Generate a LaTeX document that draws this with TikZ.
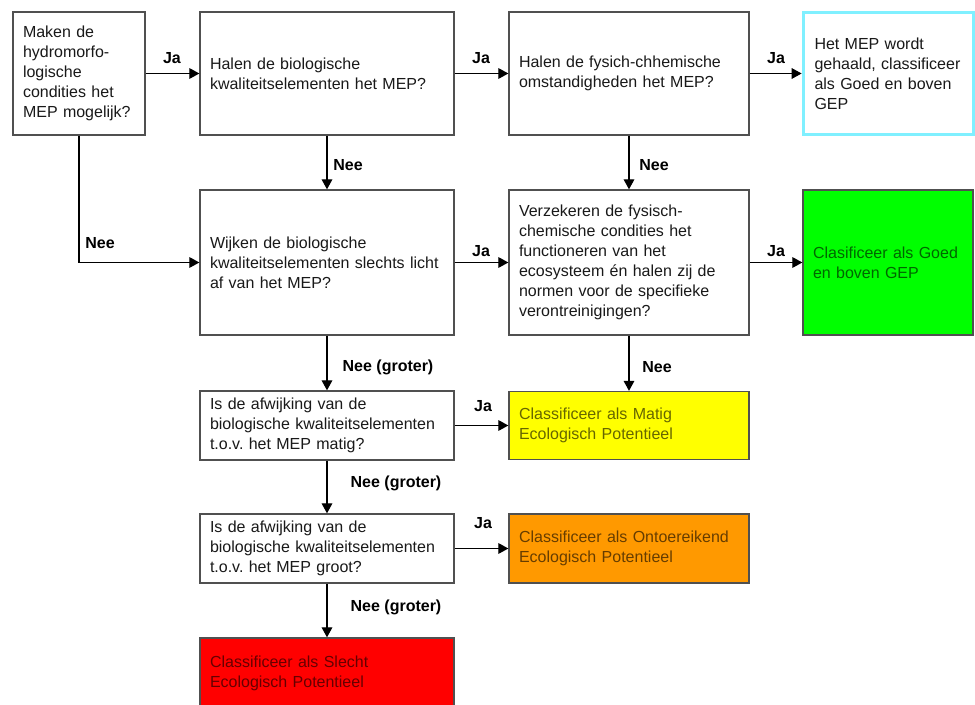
\documentclass[tikz,border=0pt]{standalone}
\usepackage{fontspec}
\setmainfont{Liberation Sans}
\usetikzlibrary{arrows.meta}
\definecolor{bordergray}{RGB}{80,80,80}
\definecolor{cyanbord}{RGB}{128,240,255}
\definecolor{goodgreen}{RGB}{0,255,0}
\definecolor{matigyellow}{RGB}{255,255,0}
\definecolor{ontorange}{RGB}{255,153,0}
\definecolor{slechtred}{RGB}{255,0,0}
\frenchspacing
\begin{document}
\begin{tikzpicture}[x=0.75pt,y=-0.75pt,
  box/.style={draw=bordergray, line width=1pt, fill=white, inner xsep=7.5pt, inner ysep=0pt,
    align=left, font=\fontsize{12}{15}\selectfont\frenchspacing, text=black!90},
  cbox/.style={box, text=black, text opacity=0.6},
  wA/.style={minimum width=99pt, text width=84pt},
  wB/.style={minimum width=190.5pt, text width=175.5pt},
  wC/.style={minimum width=180pt, text width=165pt},
  wD/.style={minimum width=127.5pt, text width=112.5pt},
  lbl/.style={font=\fontsize{12}{14}\selectfont\bfseries, inner sep=0pt},
  arr/.style={draw=black, line width=0.9pt, -{Triangle[length=7.5pt,width=8pt]}}
]
\useasboundingbox (0,0) rectangle (975,705);
\clip (0,0) rectangle (975,705);
\fill[white] (0,0) rectangle (975,705);

% row 1
\node[box, wA, minimum height=92.25pt] (A) at (79,73.5)
  {Maken de\\hydromorfo-\\logische\\condities het\\MEP mogelijk?};
\node[box, wB, minimum height=92.25pt] (B) at (327,73.5)
  {Halen de biologische\\kwaliteitselementen het MEP?};
\node[box, wC, minimum height=92.25pt] (C) at (629,73.5)
  {Halen de fysich-chhemische\\omstandigheden het MEP?};
\node[box, draw=cyanbord, line width=2.8pt, minimum width=127.5pt, text width=111pt, inner xsep=8.25pt, minimum height=91.5pt] (D) at (888.5,73.5)
  {Het MEP wordt\\gehaald, classificeer\\als Goed en boven\\GEP};

% row 2
\node[box, wB, minimum height=108.75pt] (E) at (327,262.5)
  {Wijken de biologische\\kwaliteitselementen slechts licht\\af van het MEP?};
\node[box, wC, minimum height=108.75pt] (F) at (629,262.5)
  {Verzekeren de fysisch-\\chemische condities het\\functioneren van het\\ecosysteem én halen zij de\\normen voor de specifieke\\verontreinigingen?};
\node[cbox, wD, fill=goodgreen, minimum height=108.75pt] (G) at (888,262.5)
  {Clasificeer als Goed\\en boven GEP};

% row 3
\node[box, wB, minimum height=51.75pt] (H) at (327,425.5)
  {Is de afwijking van de\\biologische kwaliteitselementen\\t.o.v. het MEP matig?};
\node[cbox, wC, fill=matigyellow, minimum height=51pt] (Y) at (629,425.5)
  {Classificeer als Matig\\Ecologisch Potentieel};

% row 4
\node[box, wB, minimum height=51.75pt] (J) at (327,548.5)
  {Is de afwijking van de\\biologische kwaliteitselementen\\t.o.v. het MEP groot?};
\node[cbox, wC, fill=ontorange, minimum height=51.75pt] (O) at (629,548.5)
  {Classificeer als Ontoereikend\\Ecologisch Potentieel};

% row 5
\node[cbox, wB, fill=slechtred, minimum height=52.5pt] (R) at (327,673)
  {Classificeer als Slecht\\Ecologisch Potentieel};

% connectors
\draw[arr] (A) -- (B);
\draw[arr] (B) -- (C);
\draw[arr] (C) -- (D);
\draw[arr] (B) -- (E);
\draw[arr] (C) -- (F);
\draw[arr] (A.south) |- (E.west);
\draw[arr] (E) -- (F);
\draw[arr] (F) -- (G);
\draw[arr] (E) -- (H);
\draw[arr] (F) -- (Y);
\draw[arr] (H) -- (Y);
\draw[arr] (H) -- (J);
\draw[arr] (J) -- (O);
\draw[arr] (J) -- (R);

% labels
\node[lbl] (l1) at (172,58) {Ja};
\node[lbl] (l2) at (481,58) {Ja};
\node[lbl] (l3) at (776,58) {Ja};
\node[lbl] (l4) at (348,165) {Nee};
\node[lbl] (l5) at (654,165) {Nee};
\node[lbl] (l6) at (100,243) {Nee};
\node[lbl] (l7) at (481,251) {Ja};
\node[lbl] (l8) at (776,251) {Ja};
\node[lbl] (l9) at (388,367) {Nee (groter)};
\node[lbl] (l10) at (657,367) {Nee};
\node[lbl] (l11) at (483,406) {Ja};
\node[lbl] (l12) at (396,483) {Nee (groter)};
\node[lbl] (l13) at (483,523) {Ja};
\node[lbl] (l14) at (396,607) {Nee (groter)};
\end{tikzpicture}
\end{document}
